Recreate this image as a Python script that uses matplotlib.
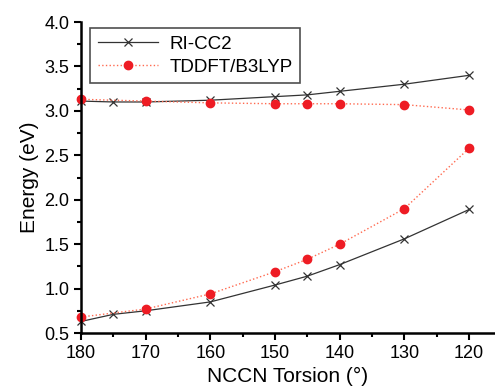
import matplotlib
matplotlib.use("Agg")
import matplotlib.pyplot as plt
from matplotlib.ticker import MultipleLocator

plt.rcParams["font.family"] = ["Liberation Sans", "DejaVu Sans"]

# RI-CC2
cc2_x = [180, 175, 170, 160, 150, 145, 140, 130, 120]
cc2_upper = [3.11, 3.10, 3.10, 3.12, 3.16, 3.18, 3.22, 3.30, 3.40]
cc2_lower = [0.63, 0.71, 0.75, 0.85, 1.04, 1.14, 1.27, 1.56, 1.89]

# TDDFT/B3LYP
dft_x = [180, 170, 160, 150, 145, 140, 130, 120]
dft_upper = [3.13, 3.11, 3.09, 3.08, 3.08, 3.08, 3.07, 3.01]
dft_lower = [0.68, 0.77, 0.94, 1.19, 1.33, 1.50, 1.90, 2.58]

fig = plt.figure(figsize=(4.95, 3.89), dpi=100)
ax = fig.add_axes([81 / 495, 56 / 389, 1 - 81 / 495, 311 / 389])

ax.plot(cc2_x, cc2_upper, color="#333333", lw=0.9, marker="x", ms=6, mew=0.9, label="RI-CC2", clip_on=False)
ax.plot(cc2_x, cc2_lower, color="#333333", lw=0.9, marker="x", ms=6, mew=0.9, clip_on=False)
ax.plot(dft_x, dft_upper, color="#ff6a50", lw=1, ls=":", marker="o", ms=6,
        mfc="#ee1c24", mec="#ee1c24", label="TDDFT/B3LYP", clip_on=False)
ax.plot(dft_x, dft_lower, color="#ff6a50", lw=1, ls=":", marker="o", ms=6,
        mfc="#ee1c24", mec="#ee1c24", clip_on=False)

ax.set_xlim(180, 116)
ax.set_ylim(0.5, 4.0)
ax.xaxis.set_major_locator(MultipleLocator(10))
ax.xaxis.set_minor_locator(MultipleLocator(5))
ax.yaxis.set_major_locator(MultipleLocator(0.5))
ax.yaxis.set_minor_locator(MultipleLocator(0.25))
ax.yaxis.set_major_formatter(plt.FormatStrFormatter("%.1f"))

for side in ("top", "right"):
    ax.spines[side].set_visible(False)
for side in ("left", "bottom"):
    ax.spines[side].set_linewidth(1.8)
ax.tick_params(which="major", direction="out", length=5, width=1.5, labelsize=13)
ax.tick_params(which="minor", direction="out", length=3, width=1.5)

ax.set_xlabel("NCCN Torsion (°)", fontsize=15)
ax.set_ylabel("Energy (eV)", fontsize=15)

leg = ax.legend(loc="upper left", bbox_to_anchor=(0.0, 1.01), fontsize=13.5, frameon=True,
                fancybox=False, edgecolor="#222222", handlelength=3.2, borderpad=0.4,
                labelspacing=0.3, handletextpad=0.6)
leg.get_frame().set_linewidth(1.2)

fig.savefig("out.png", dpi=100)
